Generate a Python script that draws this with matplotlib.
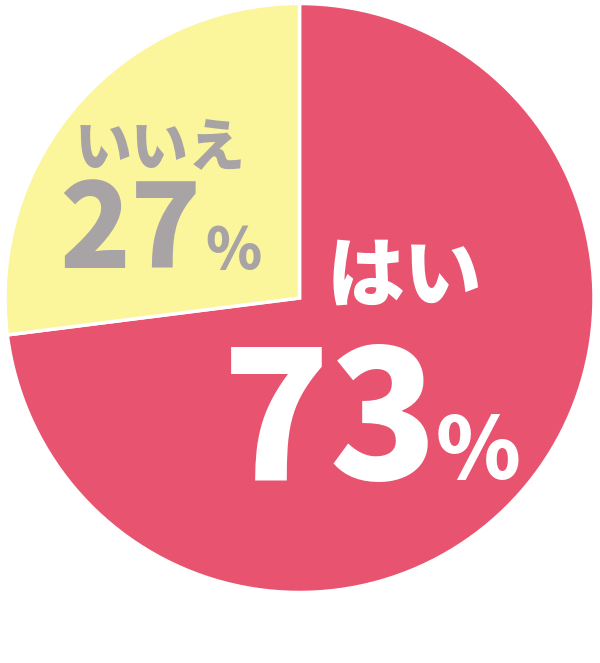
import matplotlib
matplotlib.use("Agg")
import matplotlib.pyplot as plt

labels = ["はい", "いいえ"]
values = [73, 27]
colors = ["#E8546F", "#FBF59B"]
text_colors = ["#FFFFFF", "#A8A3A5"]

plt.rcParams['font.family'] = ['Noto Sans CJK JP', 'DejaVu Sans']

W, H = 600, 663
fig = plt.figure(figsize=(W / 100, H / 100), dpi=100)
ax = fig.add_axes([0, 0, 1, 1])

cx, cy, r = 299.5, H - 298, 294.5
ax.pie(values, colors=colors, startangle=90, counterclock=False,
       center=(cx, cy), radius=r, frame=True,
       wedgeprops=dict(edgecolor='white', linewidth=2.5))
ax.set_xlim(0, W)
ax.set_ylim(0, H)
ax.set_aspect('equal')
ax.axis('off')

# "はい 73%"
ax.text(404, H - 301, labels[0], color=text_colors[0], fontsize=56,
        fontweight='black', ha='center', va='baseline')
ax.text(222, H - 480, f"{values[0]}", color=text_colors[0], fontsize=128,
        fontweight='black', ha='left', va='baseline')
ax.text(436, H - 479, "%", color=text_colors[0], fontsize=62,
        fontweight='black', ha='left', va='baseline')

# "いいえ 27%"
ax.text(160, H - 166, labels[1], color=text_colors[1], fontsize=41,
        fontweight='black', ha='center', va='baseline')
ax.text(59, H - 268, f"{values[1]}", color=text_colors[1], fontsize=84,
        fontweight='black', ha='left', va='baseline')
ax.text(205, H - 268, "%", color=text_colors[1], fontsize=41,
        fontweight='black', ha='left', va='baseline')

fig.savefig("out.png", dpi=100, facecolor='white')
